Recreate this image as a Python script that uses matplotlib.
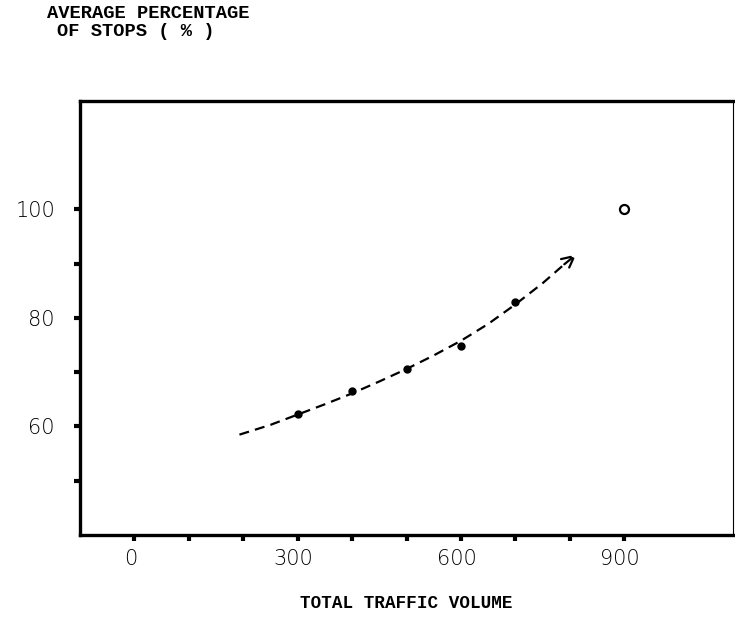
import matplotlib
matplotlib.use("Agg")
import matplotlib.pyplot as plt
from matplotlib.transforms import ScaledTranslation

# Observed data (filled dots)
volume = [300, 400, 500, 600, 700]
stops_pct = [62.3, 66.6, 70.6, 74.9, 82.9]

# Open circle point
open_volume = [900]
open_stops = [100]

# Dashed trend curve
curve_x = [193, 250, 300, 350, 400, 450, 500, 550, 600, 650, 700, 750, 790]
curve_y = [58.5, 60.3, 62.2, 64.1, 66.1, 68.3, 70.6, 73.1, 75.8, 78.9, 82.5, 86.4, 89.9]
arrow_tip = (812, 91.7)

x_ticks = [0, 100, 200, 300, 400, 500, 600, 700, 800, 900]
x_tick_labels = ["0", "", "", "300", "", "", "600", "", "", "900"]
y_ticks = [50, 60, 70, 80, 90, 100]
y_tick_labels = ["", "60", "", "80", "", "100"]

fig = plt.figure(figsize=(7.35, 6.43), dpi=100)
ax = fig.add_axes([80 / 735, 1 - 535 / 643, (733 - 80) / 735, (535 - 101) / 643])

ax.set_xlim(-100, 1100)
ax.set_ylim(40, 120)

ax.plot(curve_x, curve_y, color="black", lw=1.6, linestyle=(0, (4.5, 2.8)))
ax.annotate("", xy=arrow_tip, xytext=(curve_x[-1], curve_y[-1]),
            arrowprops=dict(arrowstyle="->", color="black", lw=1.6,
                            linestyle=(0, (4.5, 2.8)), mutation_scale=22,
                            shrinkA=0, shrinkB=0))
ax.plot(volume, stops_pct, "o", color="black", markersize=5)
ax.plot(open_volume, open_stops, "o", markerfacecolor="white",
        markeredgecolor="black", markeredgewidth=1.6, markersize=6.5)

ax.set_xticks(x_ticks)
ax.set_xticklabels(x_tick_labels)
ax.set_yticks(y_ticks)
ax.set_yticklabels(y_tick_labels)
ax.tick_params(axis="both", direction="out", length=4, width=3,
               labelsize=15, colors="black")
ax.tick_params(axis="x", pad=6)
ax.tick_params(axis="y", pad=14)
shift = ScaledTranslation(-4 / 100, 0, fig.dpi_scale_trans)
for lab in ax.get_xticklabels():
    lab.set_transform(lab.get_transform() + shift)
for lab in ax.get_xticklabels() + ax.get_yticklabels():
    lab.set_fontfamily("DejaVu Sans")
    lab.set_fontweight("light")

for side in ["left", "bottom", "top"]:
    ax.spines[side].set_linewidth(2.4)
ax.spines["right"].set_linewidth(0.8)

fig.text(47 / 735, 1 - 13 / 643, "AVERAGE PERCENTAGE", family="Liberation Mono",
         fontweight="bold", fontsize=13.5, ha="left", va="center")
fig.text(57 / 735, 1 - 31 / 643, "OF STOPS ( % )", family="Liberation Mono",
         fontweight="bold", fontsize=13.5, ha="left", va="center")
fig.text(300 / 735, 1 - 603 / 643, "TOTAL TRAFFIC VOLUME", family="Liberation Mono",
         fontweight="bold", fontsize=12.7, ha="left", va="center")

fig.savefig("out.png", dpi=100)
